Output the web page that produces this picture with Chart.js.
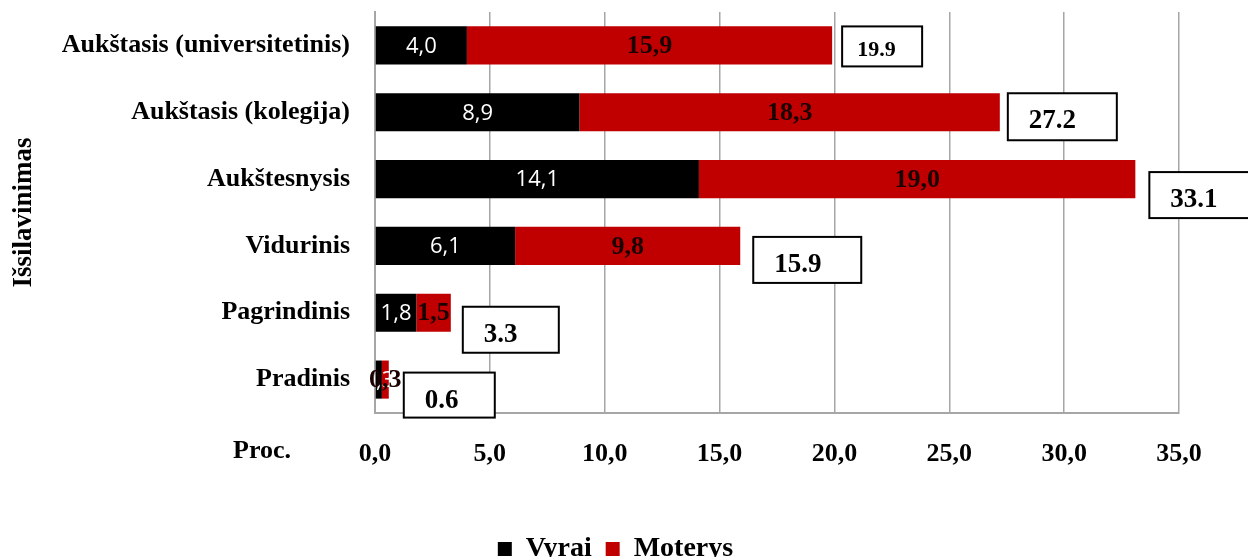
<!DOCTYPE html>
<html>
<head>
<meta charset="utf-8">
<script src="https://cdn.jsdelivr.net/npm/chart.js@4/dist/chart.umd.min.js"></script>
<style>
  html, body { margin: 0; padding: 0; background: #fff; }
  #wrap { width: 1248px; height: 557px; position: relative; }
</style>
</head>
<body>
<div id="wrap"><canvas id="c" width="1248" height="557"></canvas></div>
<script>
// Education level categories, top to bottom
const categories = [
  'Aukštasis (universitetinis)',
  'Aukštasis (kolegija)',
  'Aukštesnysis',
  'Vidurinis',
  'Pagrindinis',
  'Pradinis'
];
// Share (%) by sex
const men   = [4.0, 8.9, 14.1, 6.1, 1.8, 0.3];
const women = [15.9, 18.3, 19.0, 9.8, 1.5, 0.3];
const xTickLabels = ['0,0', '5,0', '10,0', '15,0', '20,0', '25,0', '30,0', '35,0'];

// Placement of the total boxes relative to each bar end: [dx, dyTop, width, height]
const totalBoxLayout = [
  [10, -19, 80, 40],
  [8, -19, 109, 47],
  [14, -7, 110, 46],
  [13, -9, 108, 46],
  [12, -6, 96, 46],
  [15, -7, 91, 45]
];

const SERIF = '"Liberation Serif", "Times New Roman", serif';

const labelPlugin = {
  id: 'segmentLabels',
  afterDatasetsDraw(chart) {
    const ctx = chart.ctx;
    const xs = chart.scales.x;
    ctx.save();
    // values inside the segments
    chart.data.datasets.forEach((ds, di) => {
      const meta = chart.getDatasetMeta(di);
      meta.data.forEach((bar, i) => {
        const v = ds.data[i];
        const cx = (bar.x + bar.base) / 2;
        ctx.textAlign = 'center';
        ctx.textBaseline = 'middle';
        if (di === 0) {
          ctx.font = '22px "Open Sans", "DejaVu Sans", sans-serif';
          ctx.fillStyle = '#ffffff';
        } else {
          ctx.font = 'bold 26px ' + SERIF;
          ctx.fillStyle = '#1a0000';
        }
        ctx.fillText(v.toFixed(1).replace('.', ','), cx, bar.y + 1);
      });
    });
    // boxed totals
    const meta0 = chart.getDatasetMeta(0);
    categories.forEach((c, i) => {
      const total = men[i] + women[i];
      const endX = xs.getPixelForValue(total);
      const yc = meta0.data[i].y;
      const [dx, dy, w, h] = totalBoxLayout[i];
      const bx = endX + dx, by = yc + dy;
      ctx.fillStyle = '#ffffff';
      ctx.fillRect(bx, by, w, h);
      ctx.strokeStyle = '#000000';
      ctx.lineWidth = 2;
      ctx.strokeRect(bx, by, w, h);
      ctx.fillStyle = '#000000';
      ctx.textAlign = 'left';
      ctx.textBaseline = 'middle';
      if (i === 0) {
        ctx.font = 'bold 22px ' + SERIF;
        ctx.fillText(total.toFixed(1), bx + 15, by + 24);
      } else {
        ctx.font = 'bold 27px ' + SERIF;
        ctx.fillText(total.toFixed(1), bx + 21, by + 28);
      }
    });
    // unit label in front of the x tick row
    ctx.font = 'bold 26px ' + SERIF;
    ctx.fillStyle = '#000000';
    ctx.textAlign = 'center';
    ctx.textBaseline = 'middle';
    ctx.fillText('Proc.', 262, 451);
    ctx.restore();
  }
};

new Chart(document.getElementById('c'), {
  type: 'bar',
  data: {
    labels: categories,
    datasets: [
      { label: 'Vyrai', data: men, backgroundColor: '#000000', borderWidth: 0 },
      { label: 'Moterys', data: women, backgroundColor: '#c00000', borderWidth: 0 }
    ]
  },
  options: {
    indexAxis: 'y',
    responsive: false,
    animation: false,
    devicePixelRatio: 1,
    layout: { padding: { top: 12, right: 17, bottom: -16, left: 0 } },
    datasets: { bar: { categoryPercentage: 1.0, barPercentage: 0.57 } },
    scales: {
      x: {
        stacked: true,
        min: 0,
        max: 35,
        afterBuildTicks(scale) {
          scale.ticks = xTickLabels.map((t, i) => ({ value: i * 5 }));
        },
        afterFit(scale) {
          scale.height = 108;
          scale.paddingLeft = 0;
          scale.paddingRight = 0;
        },
        ticks: {
          autoSkip: false,
          maxRotation: 0,
          padding: 26,
          color: '#000',
          font: { family: SERIF, size: 26, weight: 'bold' },
          callback: (v, i) => xTickLabels[i]
        },
        grid: { color: '#a6a6a6', lineWidth: 1.5, drawTicks: false, tickLength: 0 },
        border: { display: true, color: '#a6a6a6', width: 2 }
      },
      y: {
        stacked: true,
        afterFit(scale) {
          scale.width = 375;
          scale.paddingTop = 0;
          scale.paddingBottom = 0;
        },
        ticks: {
          padding: 25,
          color: '#000',
          font: { family: SERIF, size: 26, weight: 'bold' }
        },
        grid: { display: false, drawTicks: false, tickLength: 0 },
        border: { display: true, color: '#a6a6a6', width: 2 },
        title: {
          display: true,
          text: 'Išsilavinimas',
          color: '#000',
          font: { family: SERIF, size: 27, weight: 'bold' },
          padding: { top: 8, bottom: 0 }
        }
      },
      // empty right-hand margin that keeps room for the last total box
      yRight: {
        type: 'category',
        position: 'right',
        ticks: { display: false },
        grid: { display: false, drawTicks: false },
        border: { display: false },
        afterFit(scale) {
          scale.width = 52;
          scale.paddingTop = 0;
          scale.paddingBottom = 0;
        }
      }
    },
    plugins: {
      legend: {
        position: 'bottom',
        labels: {
          boxWidth: 14,
          boxHeight: 14,
          padding: 14,
          color: '#000',
          font: { family: SERIF, size: 28, weight: 'bold' }
        }
      },
      tooltip: { enabled: false }
    }
  },
  plugins: [labelPlugin]
});
</script>
</body>
</html>
